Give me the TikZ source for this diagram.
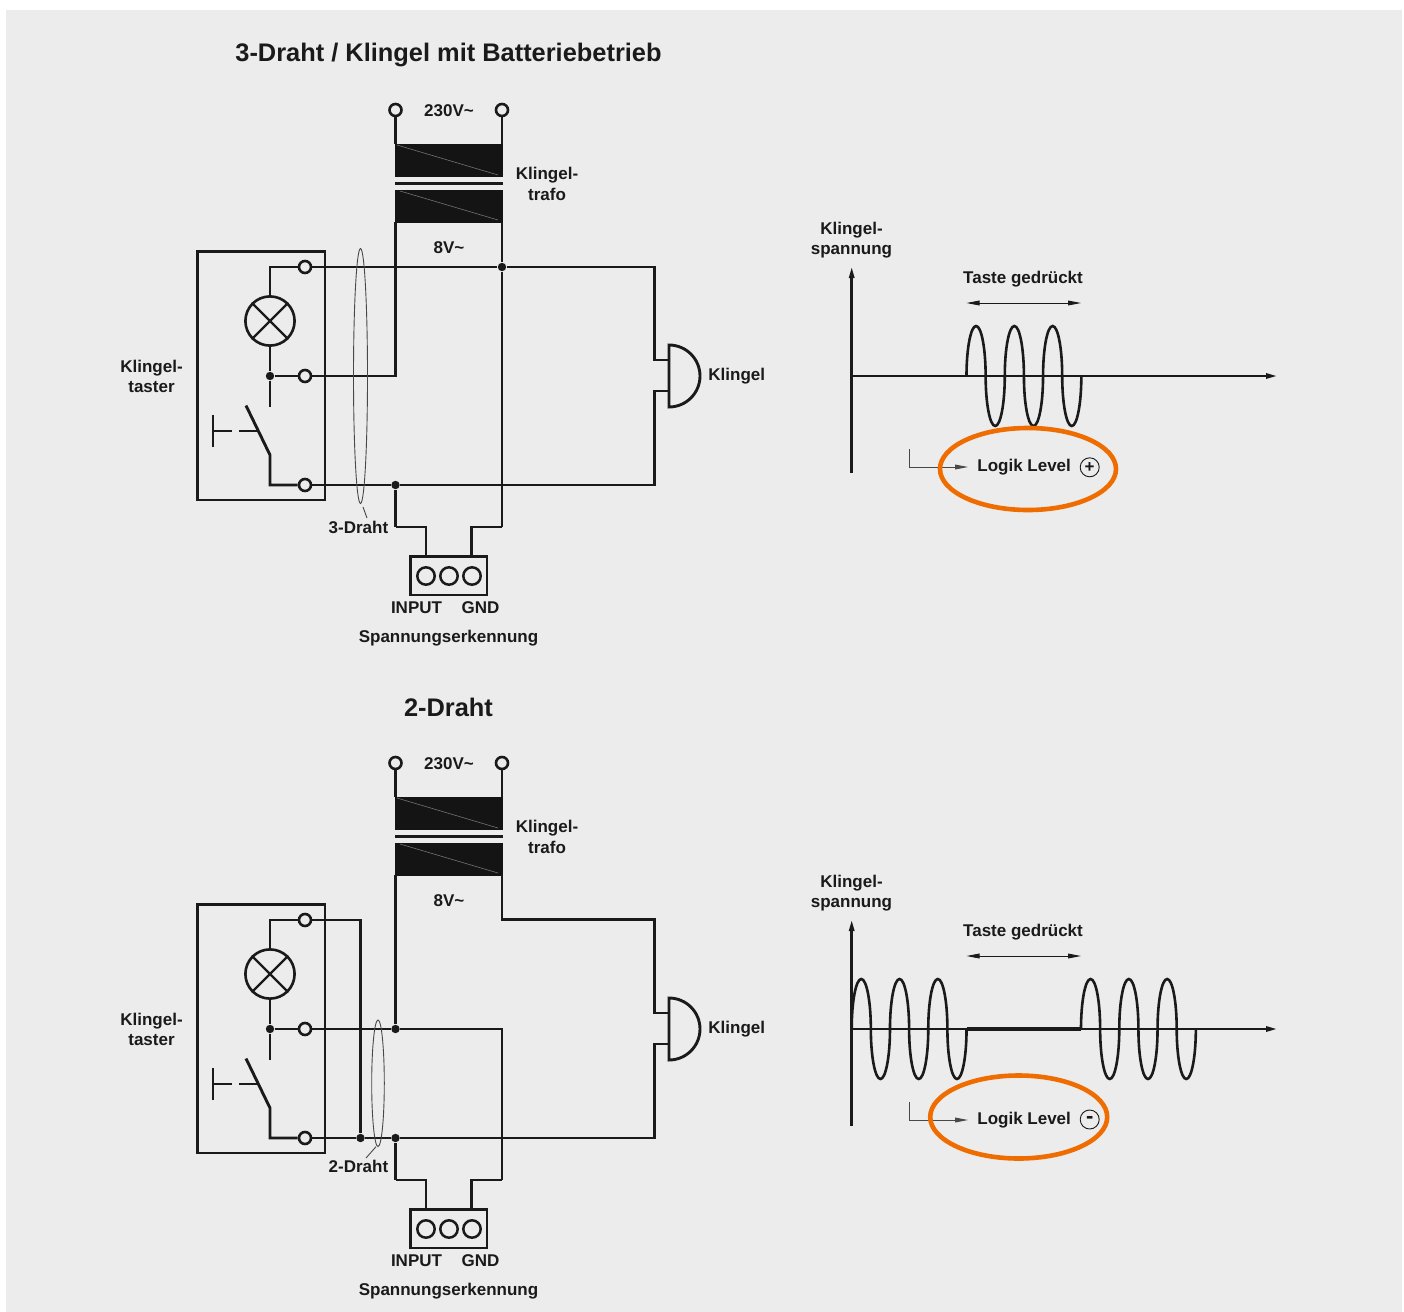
\documentclass[tikz,border=0pt]{standalone}
\usepackage{fontspec}
\setmainfont{Liberation Sans}
\usetikzlibrary{arrows.meta,shapes.geometric}
\definecolor{panelgrey}{HTML}{ECECEC}
\definecolor{inkblack}{HTML}{1A1A1A}
\definecolor{coreblack}{HTML}{141414}
\definecolor{ringorange}{HTML}{EF6C00}

\begin{document}
\begin{tikzpicture}
    [x=0.5pt,y=-0.5pt,%%%%%%%%%%%%%%%%%%%%%%%%%%%%%%
        wire/.style={draw=inkblack,line width=1.45pt},
        thinline/.style={draw=inkblack!80,line width=0.45pt},
        hairline/.style={draw=white!45!black,line width=0.3pt},
        terminal/.style={circle,draw=inkblack,line width=1.3pt,fill=panelgrey,inner sep=0pt,minimum size=6pt},
        junction/.style={circle,fill=inkblack,inner sep=0pt,minimum size=4.2pt},
        core/.style={rectangle,fill=coreblack,inner sep=0pt,minimum width=54pt,minimum height=16.5pt},
        pin/.style={circle,draw=inkblack,line width=1.25pt,inner sep=0pt,minimum size=8.7pt},
        lampbulb/.style={circle,draw=inkblack,line width=1.3pt,inner sep=0pt,minimum size=24.6pt},
        bundle/.style={ellipse,draw=inkblack!80,line width=0.45pt,inner sep=0pt},
        label/.style={font=\fontsize{8.5}{10.25}\selectfont\bfseries,text=inkblack,inner sep=0pt,align=center},
        title/.style={font=\fontsize{12.7}{15}\selectfont\bfseries,text=inkblack,inner sep=0pt},
        signal/.style={draw=inkblack,line width=1.3pt},
        axis/.style={draw=inkblack,line width=1.45pt,-{Triangle[length=6.5pt,width=2.4pt]}},
        span/.style={draw=inkblack,line width=0.45pt,{Triangle[length=6.5pt,width=2.4pt]}-{Triangle[length=6.5pt,width=2.4pt]}},
        level/.style={draw=inkblack!80,line width=0.45pt,-{Triangle[length=6.5pt,width=2.4pt]}},
        ring/.style={draw=ringorange,line width=2.3pt},
        sign/.style={circle,draw=inkblack,line width=0.45pt,inner sep=0pt,minimum size=9.5pt,font=\fontsize{8.5}{9}\selectfont\bfseries,text=inkblack},
    ]%%%%%%%%%%%%%%%%%%%%%%%%%%%%%%

\useasboundingbox (0,0) rectangle (1404,1312);
\fill[panelgrey] (6,10) rectangle (1402,1312);

\node[title] (titlea) at (448.5,55){3-Draht / Klingel mit Batteriebetrieb};
\node[title] (titleb) at (448.5,707.5){2-Draht};

\foreach \yo/\n in {0/a,653/b}{
  \begin{scope}[shift={(0,\yo)}]
    % trafo
    \node[terminal] (mainsl\n) at (395.5,110){};
    \node[terminal] (mainsr\n) at (502,110){};
    \node[label] (mainsv\n) at (449,110.5){230V\char`~};
    \node[core] (corehi\n) at (449,160.5){};
    \node[core] (corelo\n) at (449,206){};
    \coordinate (hvl\n) at (395.5,144);
    \coordinate (hvr\n) at (502,144);
    \coordinate (lvl\n) at (395.5,222);
    \coordinate (lvr\n) at (502,222);
    \draw[wire] (mainsl\n) -- (hvl\n);
    \draw[wire] (mainsr\n) -- (hvr\n);
    \draw[wire] (395,183.5) -- (503,183.5);
    \draw[hairline] (397,145) -- (498,175);
    \draw[hairline] (400,191) -- (498,220);
    \node[label] (trafo\n) at (547,184){Klingel-\\trafo};
    \node[label] (lowv\n) at (449,247.5){8V\char`~};

    % taster
    \draw[wire] (197.5,251.5) rectangle (325,500);
    \node[terminal] (termtop\n) at (305,267){};
    \node[terminal] (termmid\n) at (305,376){};
    \node[terminal] (termbot\n) at (305,485){};
    \node[junction] (lampjoin\n) at (270,376){};
    \node[lampbulb] (lamp\n) at (270,321){};
    \draw[wire,line width=1.15pt] (lamp\n.45) -- (lamp\n.225);
    \draw[wire,line width=1.15pt] (lamp\n.135) -- (lamp\n.315);
    \draw[wire] (termtop\n) -| (lamp\n);
    \draw[wire] (lamp\n) -- (lampjoin\n);
    \draw[wire] (lampjoin\n) -- (termmid\n);
    \draw[wire] (lampjoin\n) -- (270,407);
    \draw[wire] (termbot\n) -| (270,455) -- (246,405.5);
    \draw[wire] (213,415) -- (213,447);
    \draw[wire] (213,431) -- (232,431);
    \draw[wire] (239,431) -- (257,431);
    \node[label] (taster\n) at (151.5,376.5){Klingel-\\taster};

    % klingel
    \coordinate (bellhi\n) at (669,360);
    \coordinate (belllo\n) at (669,391);
    \draw[wire] (669,345) arc (-90:90:31) -- cycle;
    \node[label,anchor=west] (bell\n) at (708,376.5){Klingel};

    % spannungserkennung
    \draw[wire] (410.5,556.5) rectangle (487,595);
    \foreach \px/\p in {426/i,449/m,472/g}{
      \node[pin] (pin\p\n) at (\px,576){};
    }
    \coordinate (sensei\n) at (426,556.5);
    \coordinate (senseg\n) at (471.5,556.5);
    \node[label] (input\n) at (416.5,607.5){INPUT};
    \node[label] (gnd\n) at (480.5,607.5){GND};
    \node[label] (sense\n) at (448.5,638.5){Spannungserkennung};
    \coordinate (ibend\n) at (395.5,527);
    \coordinate (gbend\n) at (502,527);
    \draw[wire] (ibend\n) -| (sensei\n);
    \draw[wire] (gbend\n) -| (senseg\n);

    % kurve
    \coordinate (ybot\n) at (851.7,473);
    \coordinate (ytop\n) at (851.7,265);
    \coordinate (xleft\n) at (851.7,376);
    \coordinate (xright\n) at (1279,376);
    \draw[axis] (ybot\n) -- (ytop\n);
    \draw[axis] (xleft\n) -- (xright\n);
    \node[label] (volts\n) at (851.5,240){Klingel-\\spannung};
    \node[label] (press\n) at (1023,279.5){Taste gedrückt};
    \coordinate (spanl\n) at (966.5,303);
    \coordinate (spanr\n) at (1081,303);
    \draw[span] (spanl\n) -- (spanr\n);
    \node[label,anchor=west] (logic\n) at (977,467.5){Logik Level};
    \coordinate (lvlhook\n) at (909,449);
    \coordinate (lvlend\n) at (968,467);
    \draw[level] (lvlhook\n) |- (lvlend\n);
  \end{scope}
}

% 3-Draht
\node[junction] (joinra) at (502,267){};
\node[junction] (joinla) at (395.5,485){};
\draw[wire] (termtopa) -- (joinra);
\draw[wire] (joinra) -- (654.5,267) |- (bellhia);
\draw[wire] (termbota) -- (joinla);
\draw[wire] (joinla) -- (654.5,485) |- (bellloa);
\draw[wire] (termmida) -- (395.5,376) -- (lvla);
\draw[wire] (lvra) -- (joinra);
\draw[wire] (joinra) -- (gbenda);
\draw[wire] (joinla) -- (ibenda);
\node[bundle,minimum width=7pt,minimum height=127.5pt] (bundlea) at (360.5,376){};
\node[label] (drahta) at (358.5,527){3-Draht};
\coordinate (leada) at (367,518);
\draw[thinline] (363,507) -- (leada);

% 2-Draht
\node[junction] (joinsb) at (360.5,1138){};
\node[junction] (joinlb) at (395.5,1029){};
\node[junction] (joinib) at (395.5,1138){};
\draw[wire] (termtopb) -| (joinsb);
\draw[wire] (termbotb) -- (joinsb);
\draw[wire] (joinsb) -- (joinib);
\draw[wire] (joinib) -- (654.5,1138) |- (belllob);
\draw[wire] (termmidb) -- (joinlb);
\draw[wire] (joinlb) -- (502,1029) -- (gbendb);
\draw[wire] (lvlb) -- (joinlb);
\draw[wire] (lvrb) -- (502,919.5) -- (654.5,919.5) |- (bellhib);
\draw[wire] (joinib) -- (ibendb);
\node[bundle,minimum width=6.3pt,minimum height=63.3pt] (bundleb) at (378,1083.3){};
\node[label] (drahtb) at (358.5,1166.5){2-Draht};
\coordinate (leadb) at (366,1158);
\draw[thinline] (376,1146.7) -- (leadb);

% wellen
\foreach \xs/\ys in {966.5/376,851.7/1029,1081/1029}{
  \draw[signal] (\xs,\ys) arc (180:360:9.57 and 50) arc (180:0:9.57 and 50)
                arc (180:360:9.57 and 50) arc (180:0:9.57 and 50)
                arc (180:360:9.57 and 50) arc (180:0:9.57 and 50);
}
\draw[wire,line width=1.9pt] (966.5,1029) -- (1081,1029);

% logik level
\node[sign] (signa) at (1089.7,467.3){+};
\node[sign,font=\fontsize{11}{11}\selectfont\bfseries] (signb) at (1089.7,1119.5){-};
\draw[ring] (1028,469) ellipse (88 and 41);
\draw[ring] (1018.7,1117) ellipse (88.5 and 41.5);

\end{tikzpicture}
\end{document}
